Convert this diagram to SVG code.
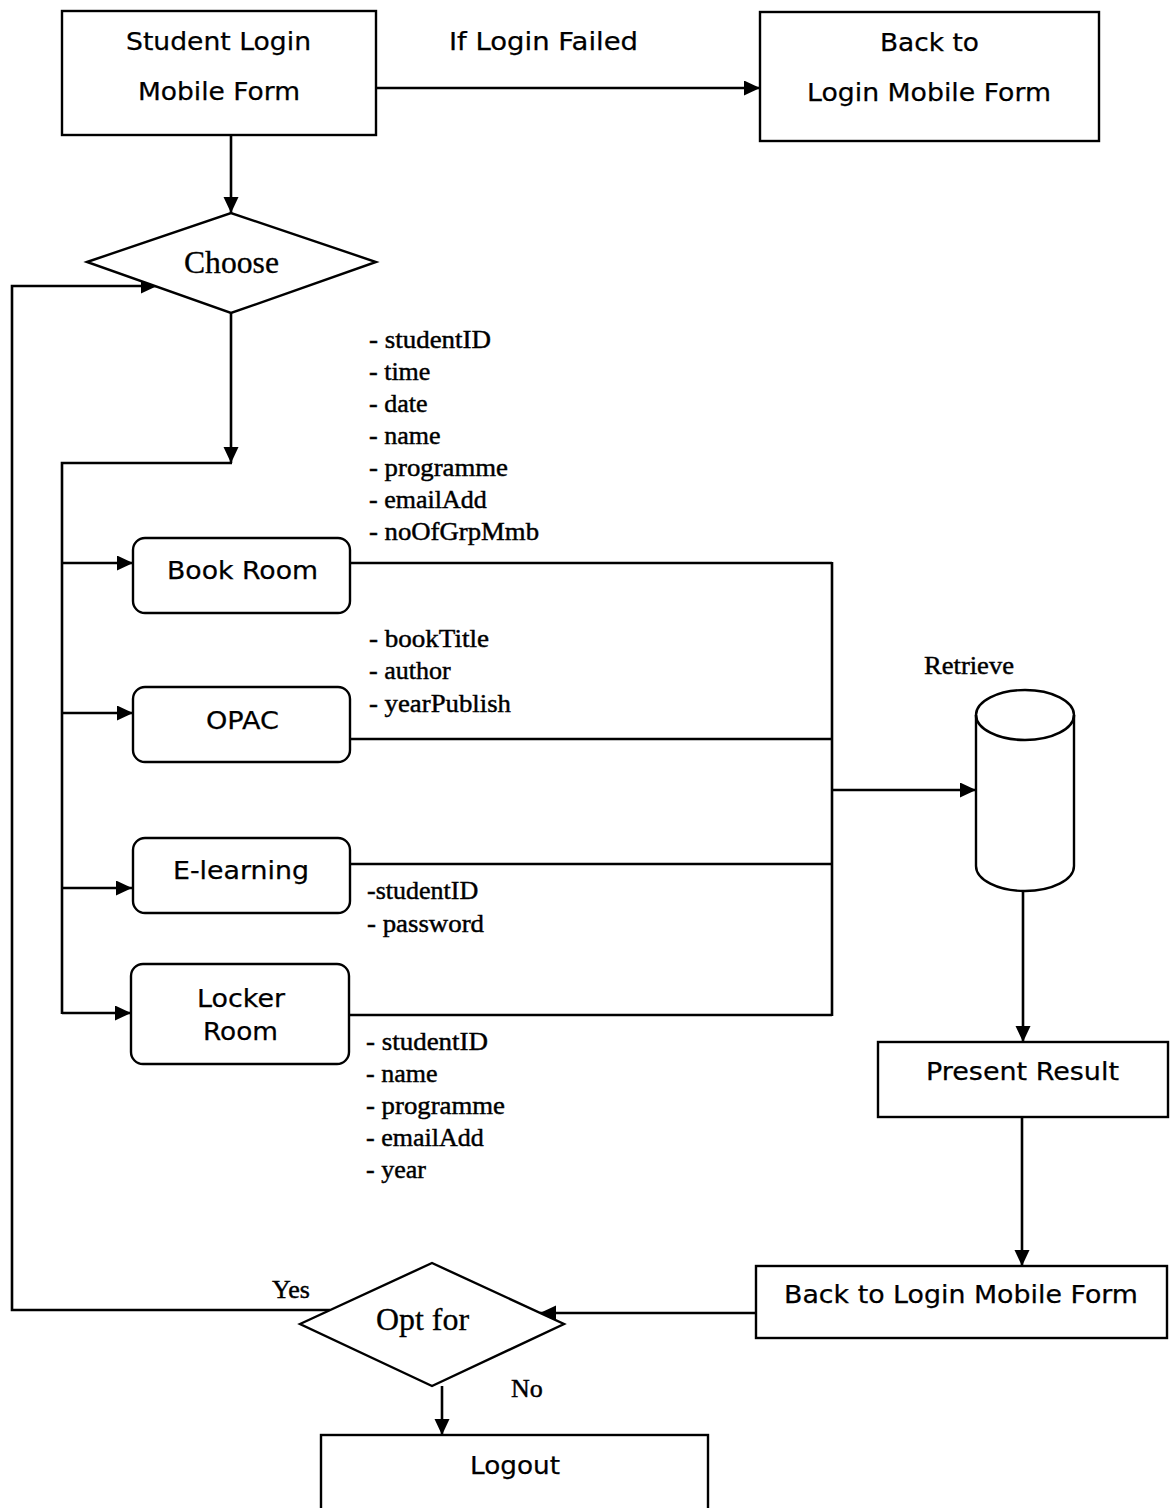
<svg xmlns="http://www.w3.org/2000/svg" width="1171" height="1508" viewBox="0 0 1171 1508">
  <style>
    .box { fill: #ffffff; stroke: #000000; stroke-width: 2.4; }
    .line { fill: none; stroke: #000000; stroke-width: 2.6; }
    .arrow { fill: none; stroke: #000000; stroke-width: 2.6; marker-end: url(#head); }
    .sans { font-family: "DejaVu Sans", Verdana, sans-serif; font-size: 25px; fill: #000000; stroke: #000000; stroke-width: 0.25; }
    .serif { font-family: "Liberation Serif", "Times New Roman", serif; font-size: 26px; fill: #000000; stroke: #000000; stroke-width: 0.45; }
    .big { font-size: 32px; stroke-width: 0.3; }
  </style>
  <defs>
    <marker id="head" markerUnits="userSpaceOnUse" markerWidth="17" markerHeight="16" refX="16" refY="7.5" orient="auto">
      <path d="M0,0 L16,7.5 L0,15 Z" fill="#000000"/>
    </marker>
  </defs>

  <rect width="1171" height="1508" fill="#ffffff"/>

  <!-- connectors -->
  <g id="connectors">
    <path class="arrow" d="M376,88 H760"/>
    <path class="arrow" d="M231,135 V213"/>
    <path class="arrow" d="M231,313 V463"/>
    <path class="line" d="M232,463 H62 V1014"/>
    <path class="arrow" d="M62,563 H133"/>
    <path class="arrow" d="M62,713 H133"/>
    <path class="arrow" d="M62,888 H132"/>
    <path class="arrow" d="M62,1013 H131"/>
    <path class="line" d="M350,563 H832"/>
    <path class="line" d="M350,739 H832"/>
    <path class="line" d="M350,864 H832"/>
    <path class="line" d="M349,1015 H832"/>
    <path class="line" d="M832,562 V1016"/>
    <path class="arrow" d="M832,790 H976"/>
    <path class="arrow" d="M1023,891 V1042"/>
    <path class="arrow" d="M1022,1117 V1266"/>
    <path class="arrow" d="M756,1313 H540"/>
    <path class="arrow" d="M442,1386 V1435"/>
    <path class="arrow" d="M330,1310 H12 V286 H157"/>
  </g>

  <!-- edge labels -->
  <text class="sans" x="449" y="50" textLength="189" lengthAdjust="spacingAndGlyphs">If Login Failed</text>
  <text class="serif" x="924" y="674" textLength="90" lengthAdjust="spacingAndGlyphs">Retrieve</text>
  <text class="serif" x="272" y="1298">Yes</text>
  <text class="serif" x="511" y="1397">No</text>

  <g id="student-login">
    <rect class="box" x="62" y="11" width="314" height="124"/>
    <text class="sans" x="126" y="50" textLength="185" lengthAdjust="spacingAndGlyphs">Student Login</text>
    <text class="sans" x="138" y="100" textLength="162" lengthAdjust="spacingAndGlyphs">Mobile Form</text>
  </g>

  <g id="back-to-login">
    <rect class="box" x="760" y="12" width="339" height="129"/>
    <text class="sans" x="880" y="51" textLength="99" lengthAdjust="spacingAndGlyphs">Back to</text>
    <text class="sans" x="807" y="101" textLength="244" lengthAdjust="spacingAndGlyphs">Login Mobile Form</text>
  </g>

  <g id="choose">
    <polygon class="box" points="87,262 231,213 376,262 231,313"/>
    <text class="serif big" x="184" y="273" textLength="95" lengthAdjust="spacingAndGlyphs">Choose</text>
  </g>

  <g id="book-room">
    <rect class="box" x="133" y="538" width="217" height="75" rx="12"/>
    <text class="sans" x="167" y="579" textLength="151" lengthAdjust="spacingAndGlyphs">Book Room</text>
    <text class="serif" x="369" y="348" textLength="122" lengthAdjust="spacingAndGlyphs">- studentID</text>
    <text class="serif" x="369" y="380">- time</text>
    <text class="serif" x="369" y="412">- date</text>
    <text class="serif" x="369" y="444">- name</text>
    <text class="serif" x="369" y="476" textLength="139" lengthAdjust="spacingAndGlyphs">- programme</text>
    <text class="serif" x="369" y="508">- emailAdd</text>
    <text class="serif" x="369" y="540" textLength="170" lengthAdjust="spacingAndGlyphs">- noOfGrpMmb</text>
  </g>

  <g id="opac">
    <rect class="box" x="133" y="687" width="217" height="75" rx="12"/>
    <text class="sans" x="206" y="729" textLength="73" lengthAdjust="spacingAndGlyphs">OPAC</text>
    <text class="serif" x="369" y="647" textLength="120" lengthAdjust="spacingAndGlyphs">- bookTitle</text>
    <text class="serif" x="369" y="679">- author</text>
    <text class="serif" x="369" y="712" textLength="142" lengthAdjust="spacingAndGlyphs">- yearPublish</text>
  </g>

  <g id="e-learning">
    <rect class="box" x="133" y="838" width="217" height="75" rx="12"/>
    <text class="sans" x="173" y="879" textLength="136" lengthAdjust="spacingAndGlyphs">E-learning</text>
    <text class="serif" x="367" y="899">-studentID</text>
    <text class="serif" x="367" y="932" textLength="117" lengthAdjust="spacingAndGlyphs">- password</text>
  </g>

  <g id="locker-room">
    <rect class="box" x="131" y="964" width="218" height="100" rx="12"/>
    <text class="sans" x="197" y="1007" textLength="88" lengthAdjust="spacingAndGlyphs">Locker</text>
    <text class="sans" x="203" y="1040" textLength="75" lengthAdjust="spacingAndGlyphs">Room</text>
    <text class="serif" x="366" y="1050" textLength="122" lengthAdjust="spacingAndGlyphs">- studentID</text>
    <text class="serif" x="366" y="1082">- name</text>
    <text class="serif" x="366" y="1114" textLength="139" lengthAdjust="spacingAndGlyphs">- programme</text>
    <text class="serif" x="366" y="1146">- emailAdd</text>
    <text class="serif" x="366" y="1178">- year</text>
  </g>

  <g id="database">
    <path class="box" d="M976,715 V866 A49,25 0 0 0 1074,866 V715 A49,25 0 0 0 976,715 Z"/>
    <path class="line" stroke-width="2.2" d="M976,715 A49,25 0 0 0 1074,715"/>
  </g>

  <g id="present-result">
    <rect class="box" x="878" y="1042" width="290" height="75"/>
    <text class="sans" x="926" y="1080" textLength="193" lengthAdjust="spacingAndGlyphs">Present Result</text>
  </g>

  <g id="back-to-login-2">
    <rect class="box" x="756" y="1266" width="411" height="72"/>
    <text class="sans" x="784" y="1303" textLength="354" lengthAdjust="spacingAndGlyphs">Back to Login Mobile Form</text>
  </g>

  <g id="opt-for">
    <polygon class="box" points="300,1324 432,1263 564,1324 432,1386"/>
    <text class="serif big" x="376" y="1330" textLength="93" lengthAdjust="spacingAndGlyphs">Opt for</text>
  </g>

  <g id="logout">
    <rect class="box" x="321" y="1435" width="387" height="80"/>
    <text class="sans" x="470" y="1474" textLength="90" lengthAdjust="spacingAndGlyphs">Logout</text>
  </g>
</svg>
